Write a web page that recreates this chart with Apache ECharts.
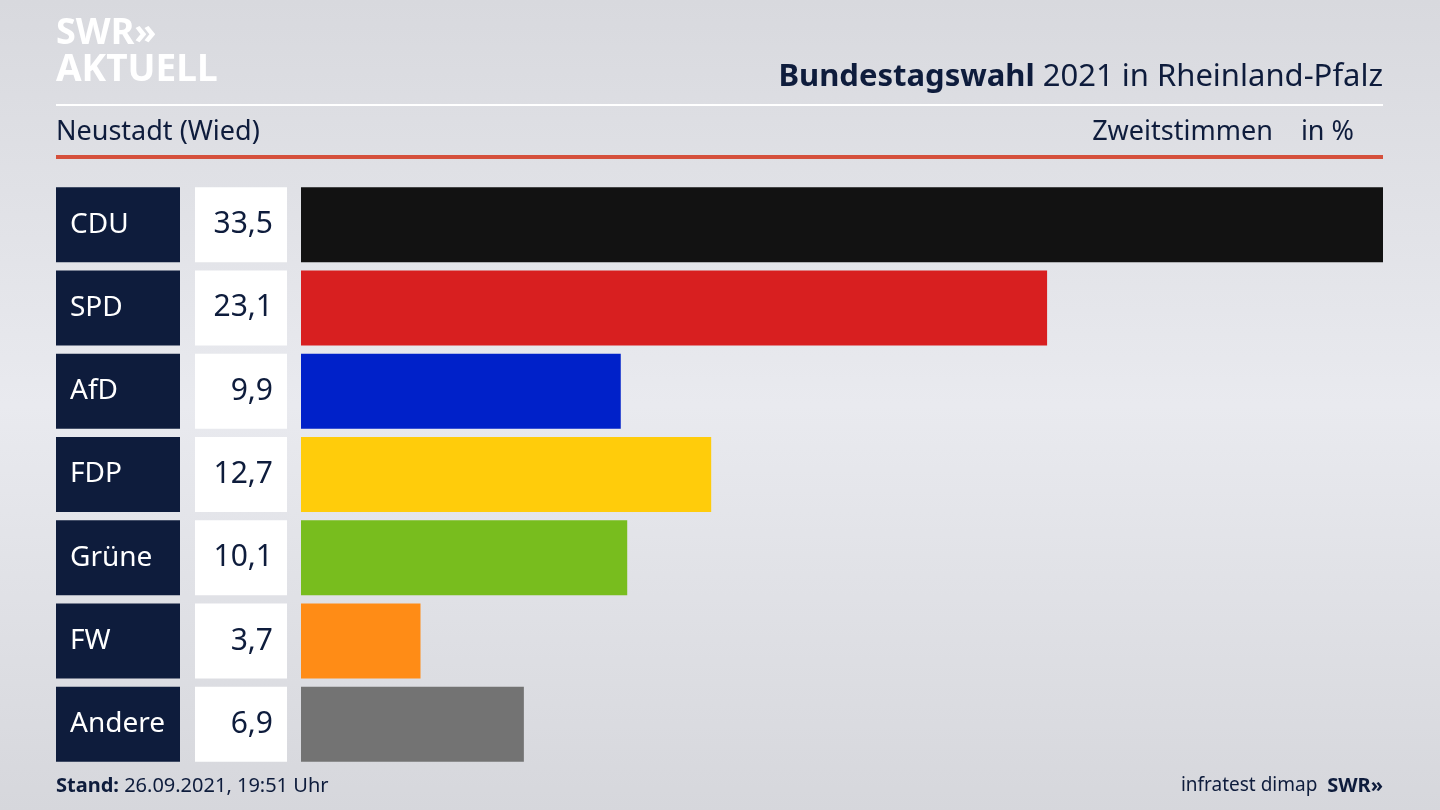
<!DOCTYPE html>
<html>
<head>
<meta charset="utf-8">
<script src="https://cdn.jsdelivr.net/npm/echarts@6/dist/echarts.min.js"></script>
<style>
html,body{margin:0;padding:0;}
#chart{width:1440px;height:810px;}
</style>
</head>
<body>
<div id="chart"></div>
<script>
// Daten
var parteien = ['CDU', 'SPD', 'AfD', 'FDP', 'Grüne', 'FW', 'Andere'];
var werte = [33.5, 23.1, 9.9, 12.7, 10.1, 3.7, 6.9];
var farben = ['#121212', '#d81f20', '#0021c9', '#ffcc0b', '#78bd1e', '#ff8c16', '#737373'];

var navy = '#0e1c3c';
var font = 'Noto Sans';
var chart = echarts.init(document.getElementById('chart'));

function grid(left, width) {
  return {left: left, width: width, top: 183, height: 583};
}
var yAx = function (i) {
  return {type: 'category', data: parteien, inverse: true, gridIndex: i, show: false};
};
var xAx = function (i, max) {
  return {type: 'value', min: 0, max: max, gridIndex: i, show: false};
};

chart.setOption({
  backgroundColor: {
    type: 'linear', x: 0, y: 0, x2: 0, y2: 1,
    colorStops: [{offset: 0, color: '#d8d9de'}, {offset: 0.5, color: '#e9eaef'}, {offset: 1, color: '#d6d7dc'}]
  },
  grid: [grid(56, 124), grid(195, 92), grid(301, 1082)],
  xAxis: [xAx(0, 1), xAx(1, 1), xAx(2, 33.5)],
  yAxis: [yAx(0), yAx(1), yAx(2)],
  series: [
    {
      type: 'bar', xAxisIndex: 0, yAxisIndex: 0, barWidth: 75, silent: true,
      data: parteien.map(function () { return 1; }),
      itemStyle: {color: navy},
      label: {show: true, position: 'insideLeft', distance: 14, color: '#fff', fontFamily: font, fontSize: 28,
        formatter: function (p) { return parteien[p.dataIndex]; }}
    },
    {
      type: 'bar', xAxisIndex: 1, yAxisIndex: 1, barWidth: 75, silent: true,
      data: parteien.map(function () { return 1; }),
      itemStyle: {color: '#ffffff'},
      label: {show: true, position: 'insideRight', distance: 14, color: navy, fontFamily: font, fontSize: 30,
        formatter: function (p) { return werte[p.dataIndex].toFixed(1).replace('.', ','); }}
    },
    {
      type: 'bar', xAxisIndex: 2, yAxisIndex: 2, barWidth: 75, silent: true,
      data: werte.map(function (v, i) { return {value: v, itemStyle: {color: farben[i]}}; })
    }
  ],
  graphic: [
    {type: 'text', left: 56, top: 16, style: {text: 'SWR»', fill: '#fff', font: 'bold 36px ' + font}},
    {type: 'text', left: 56, top: 52, style: {text: 'AKTUELL', fill: '#fff', font: 'bold 37px ' + font}},
    {type: 'text', right: 57, top: 62, style: {
      text: '{b|Bundestagswahl} 2021 in Rheinland-Pfalz', fill: navy, font: '31px ' + font,
      rich: {b: {fontWeight: 'bold', fontSize: 31, fontFamily: font, fill: navy}}}},
    {type: 'rect', shape: {x: 56, y: 104, width: 1327, height: 2}, style: {fill: '#ffffff'}},
    {type: 'text', left: 56, top: 119, style: {text: 'Neustadt (Wied)', fill: navy, font: '27px ' + font}},
    {type: 'text', right: 86, top: 119, style: {text: 'Zweitstimmen    in %', fill: navy, font: '27px ' + font}},
    {type: 'rect', shape: {x: 56, y: 155, width: 1327, height: 4}, style: {fill: '#d5503c'}},
    {type: 'text', left: 56, top: 776, style: {
      text: '{b|Stand:} 26.09.2021, 19:51 Uhr', fill: navy, font: '20px ' + font,
      rich: {b: {fontWeight: 'bold', fontSize: 20, fontFamily: font, fill: navy}}}},
    {type: 'text', right: 57, top: 776, style: {
      text: 'infratest dimap  {b|SWR»}', fill: navy, font: '19px ' + font,
      rich: {b: {fontWeight: 'bold', fontSize: 20, fontFamily: font, fill: navy}}}}
  ]
});
</script>
</body>
</html>
